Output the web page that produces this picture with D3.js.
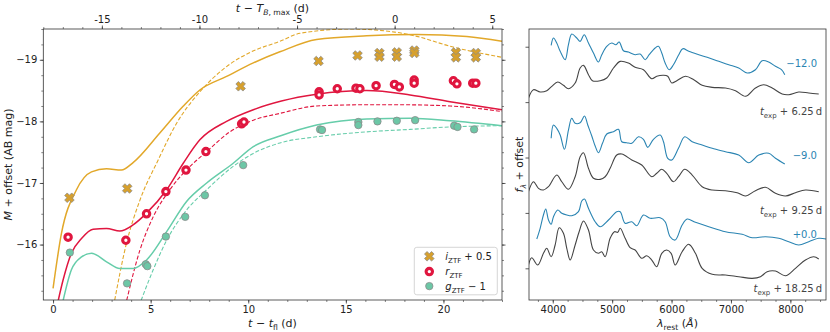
<!DOCTYPE html>
<html>
<head>
<meta charset="utf-8">
<script src="https://cdn.jsdelivr.net/npm/d3@7"></script>
<style>
  body { margin: 0; background: #fff; }
  text { font-family: "DejaVu Sans", sans-serif; }
</style>
</head>
<body>
<div id="svg_div"></div>
<script>
// light curves, t - t_fl (d) vs abs. mag (+ offset)
var i_time = [0.84, 3.8, 9.61, 13.6, 15.6, 16.72, 16.72, 17.61, 17.61, 18.51, 18.51, 20.64, 20.64, 21.66, 21.66];
var i_mag  = [-16.76, -16.91, -18.57, -18.98, -19.07, -19.11, -19.05, -19.12, -19.05, -19.15, -19.11, -19.12, -19.04, -19.11, -19.04];
var r_time = [0.77, 3.73, 4.79, 5.78, 6.81, 7.83, 9.66, 9.78, 13.63, 13.63, 14.56, 15.52, 15.72, 16.55, 17.49, 17.74, 18.5, 18.5, 20.51, 20.69, 21.5, 21.66];
var r_mag  = [-16.12, -16.07, -16.5, -16.86, -17.21, -17.51, -17.96, -17.99, -18.48, -18.43, -18.53, -18.54, -18.53, -18.58, -18.6, -18.56, -18.67, -18.62, -18.66, -18.61, -18.62, -18.62];
var g_time = [0.86, 3.79, 4.75, 4.83, 5.78, 6.77, 7.78, 9.74, 13.68, 13.78, 15.64, 15.64, 16.62, 17.61, 18.55, 20.55, 20.72, 21.57];
var g_mag  = [-15.87, -15.37, -15.68, -15.65, -16.13, -16.45, -16.8, -17.29, -17.87, -17.86, -17.99, -17.94, -18.0, -18.01, -18.02, -17.93, -17.91, -17.87];

// models (solid / dashed)
var i_model_t  = [0, 0.43, 1.2, 1.97, 2.74, 3.5, 4.1, 5.47, 6.65, 7.52, 8.89, 10.26, 11.62, 13.5, 16.07, 18.64, 21.2, 23.0];
var i_model_m  = [-15.29, -16.18, -16.89, -17.18, -17.23, -17.21, -17.33, -17.81, -18.24, -18.51, -18.73, -18.95, -19.13, -19.33, -19.39, -19.41, -19.38, -19.30];
var i_model2_t = [3.1, 3.76, 4.45, 5.38, 6.33, 7.52, 8.89, 10.09, 11.62, 12.65, 15.21, 17.5, 18.64, 20.34, 23.0];
var i_model2_m = [-15.0, -16.02, -16.72, -17.37, -17.97, -18.48, -18.89, -19.12, -19.30, -19.43, -19.5, -19.45, -19.38, -19.22, -19.04];
var r_model_t  = [0.2, 0.51, 0.94, 1.46, 2.05, 2.74, 3.42, 4.1, 4.79, 5.82, 6.67, 7.52, 8.89, 10.26, 11.7, 13.5, 16.07, 18.29, 20.34, 23.0];
var r_model_m  = [-15.0, -15.42, -15.86, -16.1, -16.25, -16.26, -16.22, -16.32, -16.51, -16.89, -17.32, -17.70, -18.0, -18.19, -18.33, -18.44, -18.50, -18.43, -18.32, -18.19];
var r_model2_t = [3.7, 4.45, 5.13, 5.98, 6.8, 7.87, 9.06, 10.26, 11.62, 13.5, 16.07, 17.78, 20.34, 23.0];
var r_model2_m = [-15.0, -15.91, -16.45, -16.89, -17.2, -17.51, -17.83, -18.02, -18.13, -18.25, -18.27, -18.27, -18.25, -18.16];
var g_model_t  = [0.45, 0.94, 1.46, 1.97, 2.74, 3.42, 4.1, 4.79, 5.82, 6.84, 7.87, 9.23, 10.26, 11.7, 13.5, 16.07, 18.29, 20.34, 23.0];
var g_model_m  = [-15.0, -15.59, -15.80, -15.86, -15.72, -15.61, -15.61, -15.75, -16.21, -16.70, -17.0, -17.32, -17.59, -17.77, -17.94, -18.04, -18.05, -18.01, -17.93];
var g_model2_t = [4.4, 5.13, 5.82, 6.84, 7.87, 9.23, 10.26, 11.62, 13.5, 16.07, 18.29, 20.34, 23.0];
var g_model2_m = [-15.0, -15.59, -16.07, -16.56, -16.89, -17.27, -17.48, -17.65, -17.75, -17.83, -17.87, -17.91, -17.93];

var bottom_ticks = [0, 5, 10, 15, 20];
var top_ticks = [-15, -10, -5, 0, 5];
var mag_ticks = [-19, -18, -17, -16];
var t_bmax = 17.5; // t_fl + 17.5 = T_B,max

// spectra: observed (blue) and model (gray), rest wavelength vs f_lambda + offset
var spec_obs1_w = [3973, 4012, 4067, 4125, 4209, 4264, 4320, 4404, 4461, 4529, 4601, 4685, 4769, 4825, 4909, 4993, 5061, 5118, 5190, 5274, 5387, 5471, 5556, 5623, 5724, 5779, 5835, 5892, 5960, 6032, 6116, 6189, 6290, 6458, 6599, 6795, 6963, 7131, 7273, 7412, 7525, 7636, 7749, 7850, 7906];
var spec_obs1_f = [4.025, 4.157, 4.067, 3.917, 3.765, 4.036, 4.229, 4.157, 4.097, 4.217, 4.067, 3.886, 3.724, 3.856, 4.007, 4.067, 4.036, 4.085, 3.928, 3.904, 3.856, 3.868, 3.765, 3.856, 3.977, 4.007, 3.886, 3.706, 3.585, 3.675, 3.845, 3.964, 3.917, 3.856, 3.809, 3.736, 3.675, 3.616, 3.525, 3.585, 3.747, 3.724, 3.646, 3.585, 3.495];
var spec_mod1_w = [3591, 3675, 3788, 3899, 3983, 4084, 4180, 4264, 4377, 4461, 4517, 4601, 4668, 4798, 4909, 5022, 5135, 5274, 5387, 5527, 5667, 5751, 5864, 5936, 6003, 6088, 6234, 6374, 6515, 6684, 6907, 7076, 7244, 7412, 7552, 7694, 7862, 7973, 8141, 8310, 8478];
var spec_mod1_f = [3.072, 3.224, 3.182, 3.206, 3.285, 3.363, 3.303, 3.242, 3.345, 3.616, 3.664, 3.495, 3.386, 3.386, 3.435, 3.616, 3.736, 3.706, 3.628, 3.585, 3.422, 3.466, 3.484, 3.466, 3.345, 3.386, 3.466, 3.404, 3.303, 3.267, 3.254, 3.206, 3.105, 3.254, 3.314, 3.254, 3.146, 3.134, 3.182, 3.164, 3.146];
var spec_obs2_w = [3973, 4012, 4067, 4125, 4197, 4264, 4320, 4377, 4461, 4534, 4589, 4657, 4714, 4769, 4837, 4909, 5022, 5106, 5162, 5246, 5330, 5443, 5527, 5599, 5695, 5808, 5864, 5936, 6003, 6116, 6222, 6347, 6515, 6684, 6907, 7131, 7300, 7468, 7636, 7749, 7906];
var spec_obs2_f = [2.347, 2.587, 2.527, 2.406, 2.148, 2.496, 2.708, 2.617, 2.628, 2.749, 2.587, 2.388, 2.208, 2.087, 2.256, 2.424, 2.466, 2.509, 2.285, 2.267, 2.256, 2.375, 2.329, 2.184, 2.329, 2.406, 2.285, 1.986, 1.955, 2.166, 2.375, 2.285, 2.226, 2.166, 2.105, 2.045, 1.906, 2.045, 2.076, 1.986, 1.883];
var spec_mod2_w = [3591, 3675, 3759, 3843, 3927, 4067, 4152, 4264, 4377, 4461, 4517, 4601, 4685, 4798, 4882, 4966, 5077, 5162, 5330, 5498, 5667, 5751, 5835, 5919, 6032, 6116, 6222, 6347, 6515, 6684, 6907, 7104, 7244, 7412, 7581, 7749, 7918, 8086, 8254, 8478];
var spec_mod2_f = [1.383, 1.563, 1.444, 1.413, 1.473, 1.684, 1.563, 1.426, 1.653, 2.014, 2.087, 1.805, 1.625, 1.606, 1.653, 1.805, 2.045, 2.063, 1.955, 1.865, 1.653, 1.715, 1.787, 1.715, 1.563, 1.653, 1.787, 1.684, 1.473, 1.413, 1.401, 1.365, 1.305, 1.401, 1.462, 1.354, 1.305, 1.365, 1.413, 1.383];
var spec_obs3_w = [3731, 3788, 3843, 3882, 3928, 3973, 4012, 4084, 4152, 4236, 4320, 4433, 4488, 4534, 4601, 4714, 4798, 4938, 5077, 5135, 5219, 5330, 5414, 5527, 5640, 5808, 5892, 5976, 6061, 6178, 6263, 6402, 6626, 6907, 7189, 7357, 7581, 7805, 7973, 8141, 8310, 8478, 8600];
var spec_obs3_f = [0.529, 0.722, 0.962, 1.070, 0.872, 0.794, 0.931, 1.052, 0.993, 0.962, 0.949, 1.022, 1.215, 1.251, 1.083, 0.841, 0.751, 0.872, 1.022, 1.022, 0.812, 0.841, 0.769, 0.962, 0.903, 0.913, 0.841, 0.570, 0.511, 0.782, 0.890, 0.830, 0.751, 0.661, 0.614, 0.552, 0.570, 0.542, 0.480, 0.421, 0.480, 0.542, 0.529];
var spec_mod3_w = [3591, 3646, 3747, 3843, 3899, 3973, 4040, 4108, 4180, 4236, 4293, 4377, 4444, 4517, 4601, 4685, 4769, 4825, 4882, 4966, 5039, 5094, 5135, 5219, 5303, 5387, 5498, 5583, 5667, 5751, 5835, 5919, 5993, 6061, 6178, 6290, 6402, 6515, 6684, 6907, 7131, 7357, 7497, 7609, 7749, 7918, 8086, 8254, 8394, 8478];
var spec_mod3_f = [0.060, 0.191, 0.060, 0.271, 0.361, 0.209, 0.421, 0.733, 0.632, 0.361, 0.150, 0.421, 0.661, 0.854, 0.691, 0.330, 0.271, 0.300, 0.209, 0.542, 0.661, 0.650, 0.722, 0.542, 0.372, 0.330, 0.181, 0.227, 0.150, 0.029, 0.271, 0.330, 0.271, 0.060, 0.300, 0.433, 0.271, 0.000, -0.108, -0.121, -0.152, -0.181, -0.152, -0.061, -0.049, -0.134, 0.000, 0.150, 0.209, 0.168];

var obs_labels = ['\u221212.0', '\u22129.0', '+0.0'];
var obs_label_f = [3.64, 1.98, 0.55];
var mod_labels = ['6.25', '9.25', '18.25'];
var mod_label_f = [2.77, 0.98, -0.43];
var wave_ticks = [4000, 5000, 6000, 7000, 8000];
var flux_ticks = [0, 1, 2, 3, 4];

var col_i = '#e2a82a', col_i_pt = '#d6a02e';
var col_r = '#e0163f';
var col_g = '#66cdaa', col_g_pt = '#6cc7a6';
var col_obs = '#2a84b2', col_mod = '#444444';

var the_svg = d3.select('#svg_div')
  .append('svg')
    .attr('width', 830)
    .attr('height', 332);

// scales
var lc_x = d3.scaleLinear().domain([-0.5, 23]).range([43.3, 502]);
var lc_top = d3.scaleLinear().domain([-0.5 - t_bmax, 23 - t_bmax]).range([43.3, 502]);
var lc_y = d3.scaleLinear().domain([-19.5, -15.1]).range([29, 300]);
var sp_x = d3.scaleLinear().domain([3600, 8600]).range([529, 826]);
var sp_y = d3.scaleLinear().domain([-0.572, 4.32]).range([300, 29]);

var defs = the_svg.append('defs');
defs.append('clipPath').attr('id', 'lc_clip').append('rect')
  .attr('x', 43.3).attr('y', 29).attr('width', 502 - 43.3).attr('height', 271);
defs.append('clipPath').attr('id', 'sp_clip').append('rect')
  .attr('x', 529).attr('y', 29).attr('width', 826 - 529).attr('height', 271);

function add_axis(make, scale, transform, major, minor, fmt) {
  if (minor) {
    var gm = the_svg.append('g').attr('transform', transform)
      .call(make(scale).tickValues(minor).tickSize(2).tickFormat(''));
    gm.select('.domain').remove();
    gm.selectAll('line').attr('stroke', '#333').attr('stroke-width', 0.6);
  }
  var g = the_svg.append('g').attr('transform', transform)
    .call(make(scale).tickValues(major).tickSize(3.5).tickPadding(2.5).tickFormat(fmt));
  g.select('.domain').remove();
  g.attr('font-family', 'DejaVu Sans');
  g.selectAll('text').attr('font-size', 10).attr('fill', '#222');
  g.selectAll('line').attr('stroke', '#333').attr('stroke-width', 0.8);
}

// left panel axes
add_axis(d3.axisBottom, lc_x, 'translate(0,300)', bottom_ticks, d3.range(0, 24, 1), d3.format('d'));
add_axis(d3.axisTop, lc_top, 'translate(0,29)', top_ticks, d3.range(-18, 6, 1), function(d) { return String(d); });
add_axis(d3.axisLeft, lc_y, 'translate(43.3,0)', mag_ticks, d3.range(-19.5, -15.1, 0.25), d3.format('d'));
add_axis(d3.axisRight, lc_y, 'translate(502,0)', mag_ticks, d3.range(-19.5, -15.1, 0.25), '');

// right panel axes
add_axis(d3.axisBottom, sp_x, 'translate(0,300)', wave_ticks, d3.range(3750, 8600, 250), d3.format('d'));
add_axis(d3.axisLeft, sp_y, 'translate(529,0)', flux_ticks, null, '');

// light curve models
var lc_line = d3.line()
  .x(function(d) { return lc_x(d[0]); })
  .y(function(d) { return lc_y(d[1]); })
  .curve(d3.curveMonotoneX);

var lc_layer = the_svg.append('g').attr('clip-path', 'url(#lc_clip)');
var models = [
  [i_model_t, i_model_m, col_i, null], [i_model2_t, i_model2_m, col_i, '4,2'],
  [r_model_t, r_model_m, col_r, null], [r_model2_t, r_model2_m, col_r, '4,2'],
  [g_model_t, g_model_m, col_g, null], [g_model2_t, g_model2_m, col_g, '4,2']
];
models.forEach(function(m) {
  lc_layer.append('path')
    .datum(d3.zip(m[0], m[1]))
    .attr('d', lc_line)
    .attr('fill', 'none')
    .attr('stroke', m[2])
    .attr('stroke-width', m[3] ? 1.1 : 1.5)
    .attr('stroke-dasharray', m[3]);
});

function x_marker(s) {
  var a = s * 0.36;
  var p = [[a,-s],[a,-a],[s,-a],[s,a],[a,a],[a,s],[-a,s],[-a,a],[-s,a],[-s,-a],[-a,-a],[-a,-s]];
  return 'M' + p.map(function(q) { return q.join(','); }).join('L') + 'Z';
}

function draw_i(sel) {
  sel.append('path').attr('d', x_marker(5.0))
    .attr('transform', function(d) { return 'translate(' + d[0] + ',' + d[1] + ') rotate(45)'; })
    .attr('fill', col_i_pt).attr('stroke', '#8a8a8a').attr('stroke-width', 0.7);
}
function draw_r(sel) {
  sel.append('circle').attr('cx', function(d) { return d[0]; }).attr('cy', function(d) { return d[1]; })
    .attr('r', 3.2).attr('fill', '#fff').attr('stroke', col_r).attr('stroke-width', 3.1);
}
function draw_g(sel) {
  sel.append('circle').attr('cx', function(d) { return d[0]; }).attr('cy', function(d) { return d[1]; })
    .attr('r', 3.7).attr('fill', col_g_pt).attr('stroke', '#8a8a8a').attr('stroke-width', 0.8);
}

function to_px(ts, ms) {
  return ts.map(function(t, k) { return [lc_x(t), lc_y(ms[k])]; });
}

var pts = lc_layer.append('g');
draw_i(pts.append('g').selectAll('g').data(to_px(i_time, i_mag)).enter().append('g'));
draw_r(pts.append('g').selectAll('g').data(to_px(r_time, r_mag)).enter().append('g'));
draw_g(pts.append('g').selectAll('g').data(to_px(g_time, g_mag)).enter().append('g'));

// rich text helper: parts = [text, italic, sub]
function rich(sel, parts, fs) {
  var in_sub = false;
  parts.forEach(function(p) {
    var t = sel.append('tspan').text(p[0]);
    if (p[1]) t.attr('font-style', 'italic');
    if (p[2] && !in_sub) { t.attr('dy', fs * 0.3); in_sub = true; }
    else if (!p[2] && in_sub) { t.attr('dy', -fs * 0.3); in_sub = false; }
    t.attr('font-size', p[2] ? fs * 0.7 : fs);
  });
}

// legend
var leg = the_svg.append('g').attr('transform', 'translate(414.3,247.3)');
leg.append('rect').attr('width', 83).attr('height', 47.5).attr('rx', 2.5)
  .attr('fill', '#fff').attr('fill-opacity', 0.85).attr('stroke', '#cccccc').attr('stroke-width', 0.8);
draw_i(leg.append('g').datum([15, 9]));
draw_r(leg.append('g').datum([15, 24.3]));
draw_g(leg.append('g').datum([15, 38.8]));
rich(leg.append('text').attr('x', 31).attr('y', 12.5).attr('fill', '#222'),
  [['i', true, false], ['ZTF', false, true], [' + 0.5', false, false]], 10);
rich(leg.append('text').attr('x', 31).attr('y', 27.8).attr('fill', '#222'),
  [['r', true, false], ['ZTF', false, true]], 10);
rich(leg.append('text').attr('x', 31).attr('y', 42.3).attr('fill', '#222'),
  [['g', true, false], ['ZTF', false, true], [' \u2212 1', false, false]], 10);

// spectra
var sp_line = d3.line()
  .x(function(d) { return sp_x(d[0]); })
  .y(function(d) { return sp_y(d[1]); })
  .curve(d3.curveCatmullRom.alpha(0.5));
var sp_layer = the_svg.append('g').attr('clip-path', 'url(#sp_clip)');
var spectra = [
  [spec_obs1_w, spec_obs1_f, col_obs], [spec_mod1_w, spec_mod1_f, col_mod],
  [spec_obs2_w, spec_obs2_f, col_obs], [spec_mod2_w, spec_mod2_f, col_mod],
  [spec_obs3_w, spec_obs3_f, col_obs], [spec_mod3_w, spec_mod3_f, col_mod]
];
spectra.forEach(function(s) {
  sp_layer.append('path')
    .datum(d3.zip(s[0], s[1]))
    .attr('d', sp_line)
    .attr('fill', 'none')
    .attr('stroke', s[2])
    .attr('stroke-width', 1.1)
    .attr('stroke-linejoin', 'round');
});

obs_labels.forEach(function(lab, k) {
  the_svg.append('text').attr('x', 817).attr('y', sp_y(obs_label_f[k]))
    .attr('text-anchor', 'end').attr('font-size', 10).attr('fill', col_obs).text(lab);
});
mod_labels.forEach(function(lab, k) {
  rich(the_svg.append('text').attr('x', 822).attr('y', sp_y(mod_label_f[k]))
    .attr('text-anchor', 'end').attr('fill', col_mod),
    [['t', true, false], ['exp', false, true], [' + ' + lab + '\u2009d', false, false]], 10);
});

// frames
the_svg.append('rect').attr('x', 43.3).attr('y', 29).attr('width', 502 - 43.3).attr('height', 271)
  .attr('fill', 'none').attr('stroke', '#333').attr('stroke-width', 0.8);
the_svg.append('rect').attr('x', 529).attr('y', 29).attr('width', 826 - 529).attr('height', 271)
  .attr('fill', 'none').attr('stroke', '#333').attr('stroke-width', 0.8);

// axis labels
rich(the_svg.append('text').attr('x', 272.5).attr('y', 327).attr('text-anchor', 'middle').attr('fill', '#222'),
  [['t', true, false], [' \u2212 ', false, false], ['t', true, false], ['fl', false, true], [' (d)', false, false]], 11);
rich(the_svg.append('text').attr('x', 272.5).attr('y', 12).attr('text-anchor', 'middle').attr('fill', '#222'),
  [['t', true, false], [' \u2212 ', false, false], ['T', true, false], ['B', true, true], [', max', false, true], [' (d)', false, false]], 11);
rich(the_svg.append('text').attr('transform', 'translate(12,164.5) rotate(-90)').attr('text-anchor', 'middle').attr('fill', '#222'),
  [['M', true, false], [' + offset (AB mag)', false, false]], 11);
rich(the_svg.append('text').attr('transform', 'translate(523,164.5) rotate(-90)').attr('text-anchor', 'middle').attr('fill', '#222'),
  [['f', true, false], ['\u03bb', true, true], [' + offset', false, false]], 11);
rich(the_svg.append('text').attr('x', 677.5).attr('y', 327).attr('text-anchor', 'middle').attr('fill', '#222'),
  [['\u03bb', true, false], ['rest', false, true], [' (', false, false], ['\u00c5', true, false], [')', false, false]], 11);
</script>
</body>
</html>
